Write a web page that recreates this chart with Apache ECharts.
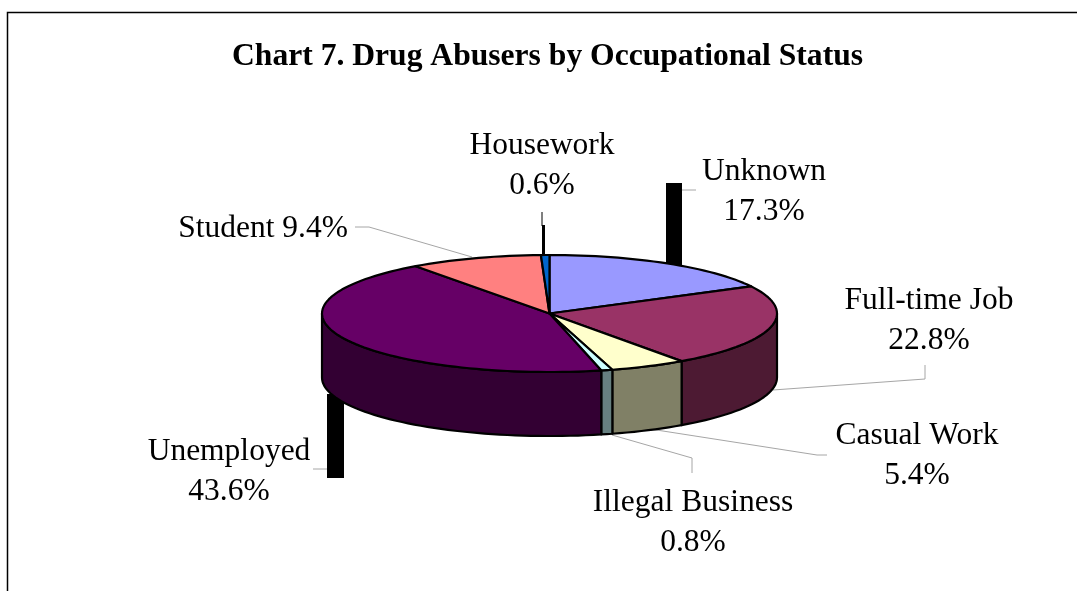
<!DOCTYPE html>
<html>
<head>
<meta charset="utf-8">
<title>Chart 7</title>
<style>
html, body { margin: 0; padding: 0; background: #fff; }
#chart7 { width: 1077px; height: 591px; }
</style>
<script src="https://cdn.jsdelivr.net/npm/echarts@6/dist/echarts.min.js"></script>
</head>
<body>
<div id="chart7"></div>
<script>
var chartTitle = 'Chart 7. Drug Abusers by Occupational Status';
var categories = ['Unknown', 'Full-time Job', 'Casual Work', 'Illegal Business', 'Unemployed', 'Student', 'Housework'];
var shares = [17.3, 22.8, 5.4, 0.8, 43.6, 9.4, 0.6];
var topColors = ['#9999ff', '#993366', '#ffffcc', '#ccffff', '#660066', '#ff8080', '#0066cc'];
var sideColors = ['#4d4d80', '#4d1a33', '#808066', '#668080', '#330033', '#804040', '#003366'];

// pie shape on the page
var cx = 549.5, cy = 313.5, rx = 227.5, ry = 58.5, depth = 64;
var serif = '"Liberation Serif", "Times New Roman", serif';

var total = shares.reduce(function (a, b) { return a + b; }, 0);
var sliceData = [];
var running = 0;
shares.forEach(function (v, i) {
    sliceData.push({ name: categories[i], value: [i, running / total * 360, (running + v) / total * 360] });
    running += v;
});

function rimPoint(deg, dy) {
    var r = deg * Math.PI / 180;
    return [cx + rx * Math.sin(r), cy - ry * Math.cos(r) + dy];
}

function arcPoints(from, to, dy) {
    var pts = [];
    var n = Math.max(2, Math.ceil(Math.abs(to - from) / 2));
    for (var k = 0; k <= n; k++) {
        pts.push(rimPoint(from + (to - from) * k / n, dy));
    }
    return pts;
}

function renderTop(params, api) {
    var i = api.value(0);
    var pts = [[cx, cy]].concat(arcPoints(api.value(1), api.value(2), 0));
    return {
        type: 'polygon',
        shape: { points: pts },
        style: { fill: topColors[i], stroke: '#000', lineWidth: 2.2, lineJoin: 'round' }
    };
}

function renderSide(params, api) {
    var i = api.value(0);
    // only the front half of the wall can be seen
    var from = Math.max(api.value(1), 90);
    var to = Math.min(api.value(2), 270);
    if (to <= from) {
        return { type: 'group', children: [] };
    }
    var pts = arcPoints(from, to, 0).concat(arcPoints(to, from, depth));
    return {
        type: 'polygon',
        shape: { points: pts },
        style: { fill: sideColors[i], stroke: '#000', lineWidth: 2.2, lineJoin: 'round' }
    };
}

// label text is built from the arrays, placement per category
var labelPlace = [
    { x: 764, y: 192, oneLine: false },
    { x: 929, y: 321, oneLine: false },
    { x: 917, y: 456, oneLine: false },
    { x: 693, y: 523, oneLine: false },
    { x: 229, y: 472, oneLine: false },
    { x: 263, y: 229, oneLine: true },
    { x: 542, y: 166, oneLine: false }
];
var leaders = [
    [[682, 190], [696, 190]],
    [[773, 390], [925, 379], [925, 365]],
    [[650, 429], [817, 455], [827, 455]],
    [[612, 435], [692, 458], [692, 473]],
    [[313, 469], [327, 469]],
    [[355, 227], [369, 227], [472, 257]],
    [[542, 212], [542, 226]]
];
var blackBars = [
    [666, 183, 16, 87],
    [327, 394, 17, 84],
    [542, 225, 3, 32]
];

var graphics = [];
graphics.push({
    type: 'polyline',
    shape: { points: [[7.5, 591], [7.5, 12.5], [1077, 12.5]] },
    style: { fill: 'none', stroke: '#000', lineWidth: 1.5 }
});
leaders.forEach(function (pts, i) {
    graphics.push({
        type: 'polyline',
        shape: { points: pts },
        style: { fill: 'none', stroke: i === 6 ? '#000' : '#a6a6a6', lineWidth: 1 }
    });
});
blackBars.forEach(function (b) {
    graphics.push({
        type: 'rect',
        shape: { x: b[0], y: b[1], width: b[2], height: b[3] },
        style: { fill: '#000' }
    });
});
categories.forEach(function (name, i) {
    var p = labelPlace[i];
    graphics.push({
        type: 'text',
        x: p.x,
        y: p.y,
        style: {
            text: name + (p.oneLine ? ' ' : '\n') + shares[i].toFixed(1) + '%',
            fill: '#000',
            font: '31.5px ' + serif,
            lineHeight: 40,
            align: 'center',
            verticalAlign: 'middle'
        }
    });
});

var chart = echarts.init(document.getElementById('chart7'));
chart.setOption({
    animation: false,
    backgroundColor: '#fff',
    title: {
        text: chartTitle,
        left: 232,
        top: 41,
        padding: 0,
        textStyle: { fontFamily: serif, fontWeight: 'bold', fontSize: 31.6, color: '#000' }
    },
    graphic: graphics,
    series: [
        { type: 'custom', coordinateSystem: 'none', renderItem: renderSide, data: sliceData, z: 2, silent: true },
        { type: 'custom', coordinateSystem: 'none', renderItem: renderTop, data: sliceData, z: 3, silent: true }
    ]
});
</script>
</body>
</html>
